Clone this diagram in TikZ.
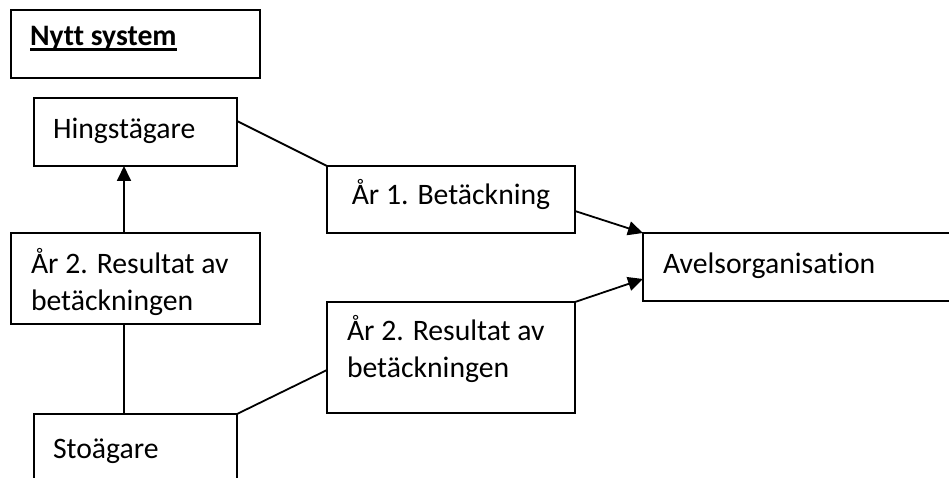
\documentclass[tikz,border=0pt]{standalone}
\usepackage{fontspec}
\setmainfont[Ligatures={NoCommon}]{Carlito}
\usetikzlibrary{arrows.meta,calc}
\newcommand\myul[1]{\setbox0\hbox{#1}\rlap{\rule[-5.5pt]{\wd0}{3pt}}\box0}
\begin{document}
\begin{tikzpicture}[x=1pt,y=-1pt,
  box/.style={draw,line width=1.8pt,rectangle,inner sep=0pt,outer sep=0pt,anchor=north west},
  lbl/.style={inner sep=0pt,outer sep=0pt,anchor=base west,font=\fontsize{29.7}{37.3}\selectfont},
  conn/.style={line width=1.8pt},
  arr/.style={conn,-{Triangle[length=15pt,width=14pt]}}]
\useasboundingbox (0,0) rectangle (949,478);
\clip (0,0) rectangle (949,478);
% boxes
\node[box,minimum width=249pt,minimum height=68pt] (title) at (11,10) {};
\node[box,minimum width=203pt,minimum height=68pt] (hing) at (34,98) {};
\node[box,minimum width=249pt,minimum height=91pt] (resL) at (11,233) {};
\node[box,minimum width=203pt,minimum height=80pt] (sto) at (34,414) {};
\node[box,minimum width=248pt,minimum height=67pt] (bet) at (327,166) {};
\node[box,minimum width=248pt,minimum height=111pt] (resM) at (327,302) {};
\node[box,minimum width=320pt,minimum height=68pt] (avel) at (643,233) {};
% texts
\node[lbl] (titleT) at (30,46) {\myul{\textbf{Nytt system}}};
\node[lbl] (hingT) at (53,139) {Hingstägare};
\node[lbl] (resLT) at (31,273) {\vtop{\hbox{År 2. Resultat av}\hbox{betäckningen}}};
\node[lbl] (stoT) at (53,458) {Stoägare};
\node[lbl,anchor=base] (betT) at (451,205) {År 1. Betäckning};
\node[lbl] (resMT) at (347,340) {\vtop{\hbox{År 2. Resultat av}\hbox{betäckningen}}};
\node[lbl] (avelT) at (663,273) {Avelsorganisation};
% connectors
\draw[conn] ([yshift=11pt]hing.east) -- (bet.north west);
\draw[arr] ([yshift=-11.5pt]bet.east) -- (avel.north west);
\draw[arr] (resM.north east) -- ([yshift=-12pt]avel.west);
\draw[conn] (sto.north east) -- ([yshift=-12.5pt]resM.west);
\draw[arr] ([xshift=-11.5pt]resL.north) -- ([xshift=-11.5pt]hing.south);
\draw[conn] ([xshift=-11.5pt]resL.south) -- ([xshift=-11.5pt]sto.north);
\end{tikzpicture}
\end{document}
